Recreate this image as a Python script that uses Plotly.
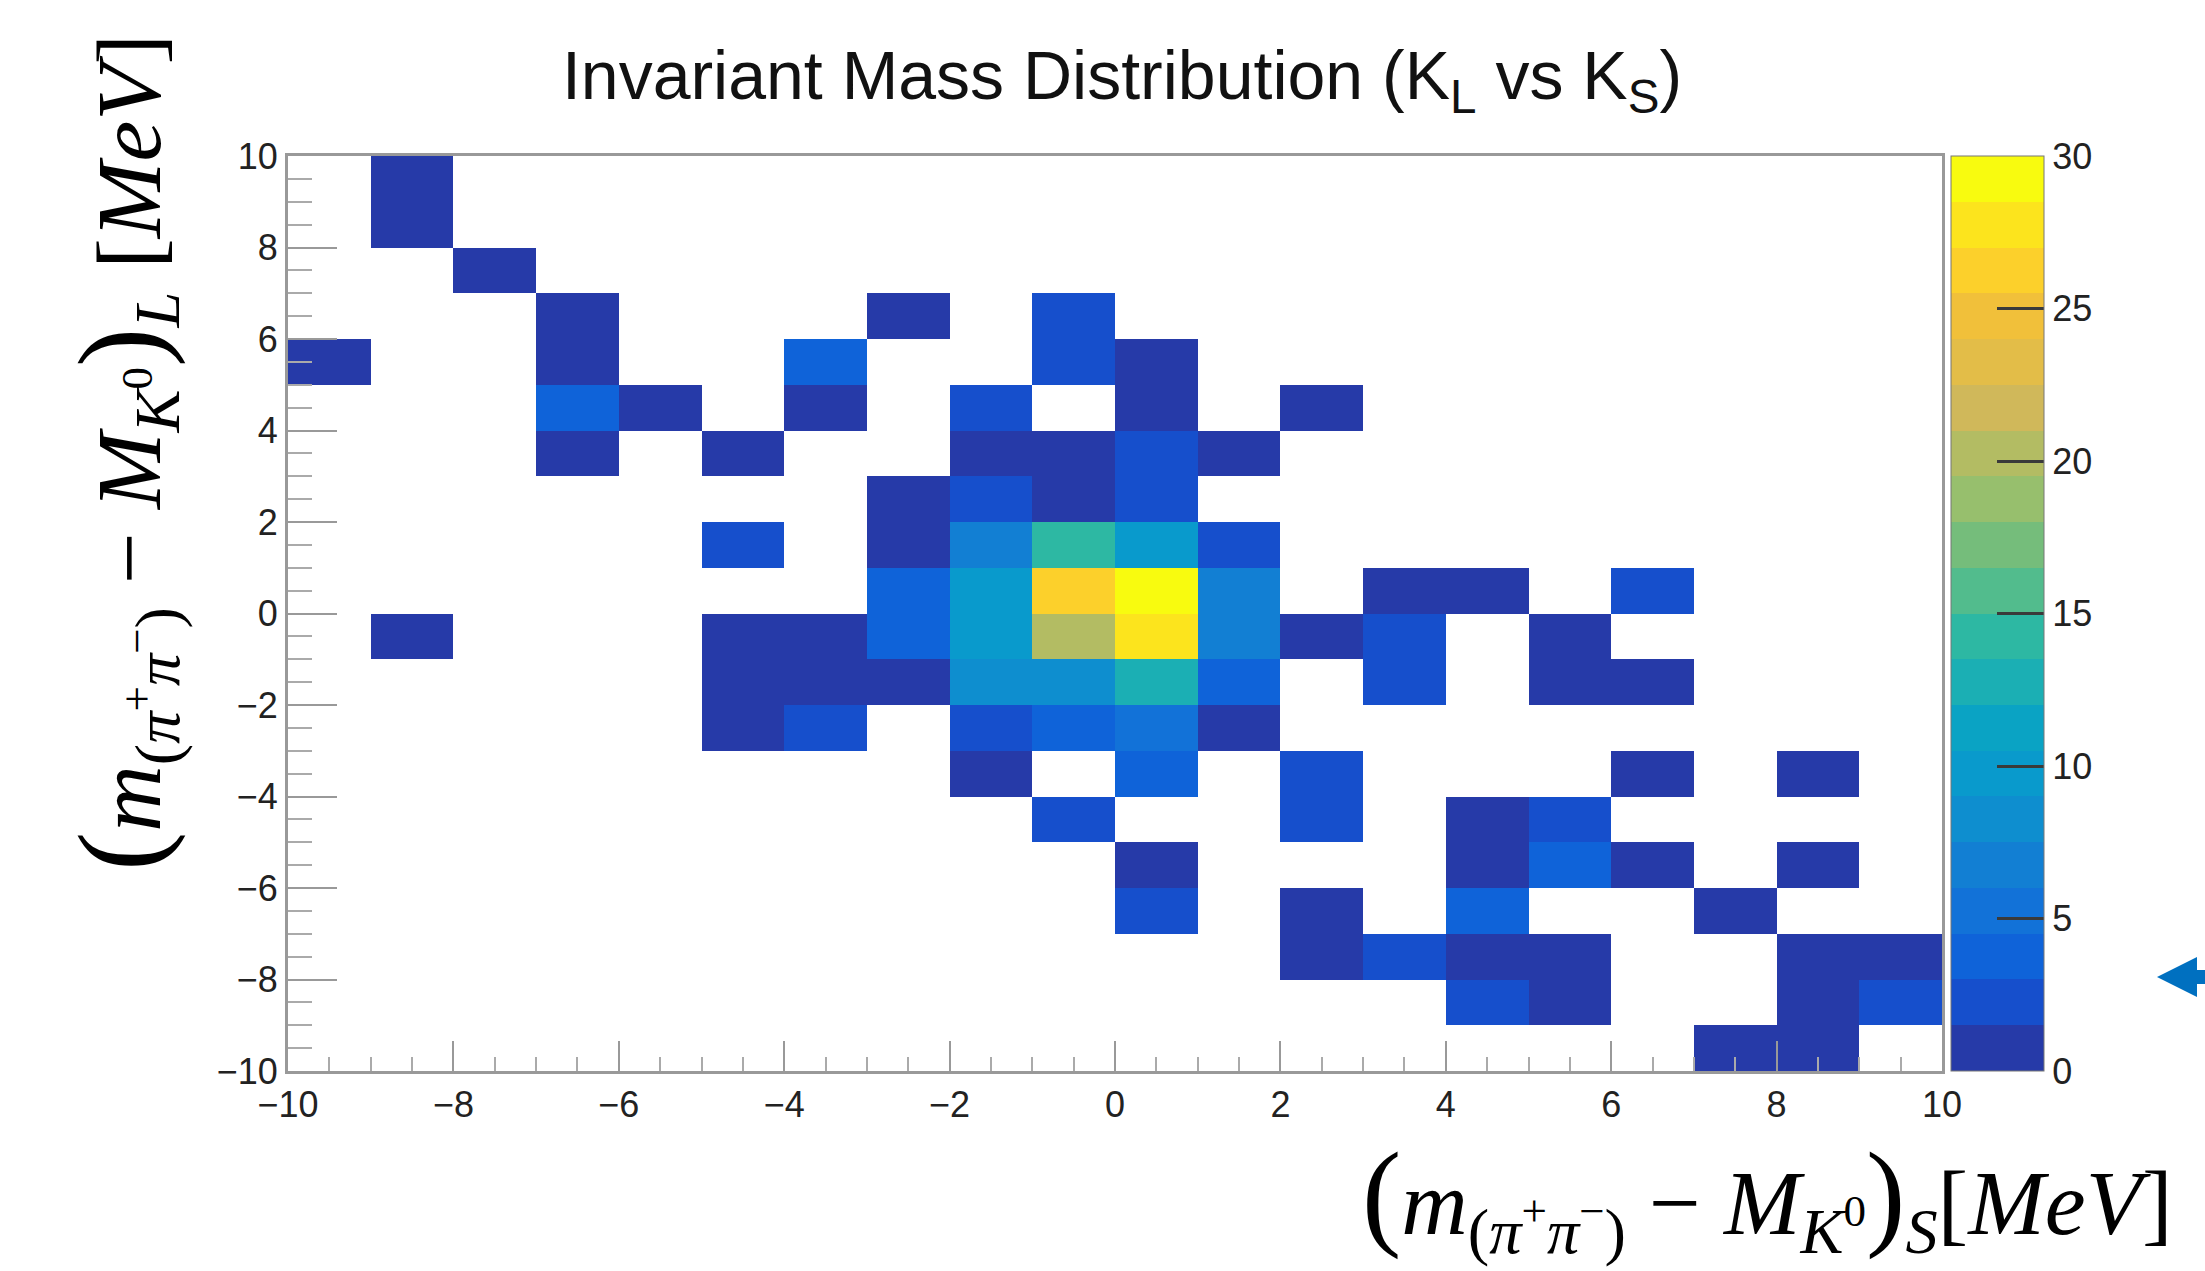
import plotly.graph_objects as go

# ---------------- data ----------------
x_centers = [-9.5 + i for i in range(20)]          # (m - M)_S bin centres [MeV]
y_centers = [-9.5 + j for j in range(20)]          # (m - M)_L bin centres [MeV]

# counts per bin, rows listed from top (y in [9,10]) to bottom (y in [-10,-9]),
# columns from x in [-10,-9] to x in [9,10]
counts_top_down = [
    [0, 1, 0, 0, 0, 0, 0, 0, 0, 0, 0, 0, 0, 0, 0, 0, 0, 0, 0, 0],   # y 9..10
    [0, 1, 0, 0, 0, 0, 0, 0, 0, 0, 0, 0, 0, 0, 0, 0, 0, 0, 0, 0],   # y 8..9
    [0, 0, 1, 0, 0, 0, 0, 0, 0, 0, 0, 0, 0, 0, 0, 0, 0, 0, 0, 0],   # y 7..8
    [0, 0, 0, 1, 0, 0, 0, 1, 0, 2, 0, 0, 0, 0, 0, 0, 0, 0, 0, 0],   # y 6..7
    [1, 0, 0, 1, 0, 0, 4, 0, 0, 2, 1, 0, 0, 0, 0, 0, 0, 0, 0, 0],   # y 5..6
    [0, 0, 0, 4, 1, 0, 1, 0, 2, 0, 1, 0, 1, 0, 0, 0, 0, 0, 0, 0],   # y 4..5
    [0, 0, 0, 1, 0, 1, 0, 0, 1, 1, 2, 1, 0, 0, 0, 0, 0, 0, 0, 0],   # y 3..4
    [0, 0, 0, 0, 0, 0, 0, 1, 2, 1, 2, 0, 0, 0, 0, 0, 0, 0, 0, 0],   # y 2..3
    [0, 0, 0, 0, 0, 2, 0, 1, 7, 14, 10, 2, 0, 0, 0, 0, 0, 0, 0, 0],  # y 1..2
    [0, 0, 0, 0, 0, 0, 0, 4, 10, 26, 30, 7, 0, 1, 1, 0, 2, 0, 0, 0],  # y 0..1
    [0, 1, 0, 0, 0, 1, 1, 4, 10, 20, 28, 7, 1, 2, 0, 1, 0, 0, 0, 0],  # y -1..0
    [0, 0, 0, 0, 0, 1, 1, 1, 8, 8, 13, 4, 0, 2, 0, 1, 1, 0, 0, 0],   # y -2..-1
    [0, 0, 0, 0, 0, 1, 2, 0, 2, 4, 5, 1, 0, 0, 0, 0, 0, 0, 0, 0],   # y -3..-2
    [0, 0, 0, 0, 0, 0, 0, 0, 1, 0, 4, 0, 2, 0, 0, 0, 1, 0, 1, 0],   # y -4..-3
    [0, 0, 0, 0, 0, 0, 0, 0, 0, 2, 0, 0, 2, 0, 1, 2, 0, 0, 0, 0],   # y -5..-4
    [0, 0, 0, 0, 0, 0, 0, 0, 0, 0, 1, 0, 0, 0, 1, 4, 1, 0, 1, 0],   # y -6..-5
    [0, 0, 0, 0, 0, 0, 0, 0, 0, 0, 2, 0, 1, 0, 4, 0, 0, 1, 0, 0],   # y -7..-6
    [0, 0, 0, 0, 0, 0, 0, 0, 0, 0, 0, 0, 1, 2, 1, 1, 0, 0, 1, 1],   # y -8..-7
    [0, 0, 0, 0, 0, 0, 0, 0, 0, 0, 0, 0, 0, 0, 2, 1, 0, 0, 1, 2],   # y -9..-8
    [0, 0, 0, 0, 0, 0, 0, 0, 0, 0, 0, 0, 0, 0, 0, 0, 0, 1, 1, 0],   # y -10..-9
]

colorbar_ticks = [0, 5, 10, 15, 20, 25, 30]

# 20 contour bands of the palette (0 -> 30)
band_colors = [
    "#263aa8", "#164fcc", "#0f63d9", "#1272d8", "#127fd3",
    "#0e8ecf", "#099acc", "#0aa3c4", "#1bafb4", "#2db8a3",
    "#52bc8d", "#75bd7b", "#97bf6d", "#b3bc63", "#d0b85a",
    "#e3bd48", "#f1c03a", "#fcd02b", "#fce41d", "#f8fb0f",
]

# ---------------- figure ----------------
W, H = 2205, 1271
z = [[(v if v > 0 else None) for v in row] for row in counts_top_down[::-1]]

n = len(band_colors)
colorscale = []
for i, c in enumerate(band_colors):
    colorscale.append([i / n, c])
    colorscale.append([(i + 1) / n, c])

px_left, px_right, px_top, px_bottom = 288, 1942, 156, 1071
sans = "Liberation Sans Narrow, Arial Narrow, Liberation Sans, Arial"

fig = go.Figure(go.Heatmap(
    x=x_centers, y=y_centers, z=z,
    zmin=0, zmax=30, colorscale=colorscale,
    hoverongaps=False,
    colorbar=dict(
        x=1951 / W, xanchor="left", xref="paper",
        y=(H - px_bottom) / H, yanchor="bottom", yref="paper",
        lenmode="pixels", len=px_bottom - px_top,
        thicknessmode="pixels", thickness=93,
        outlinewidth=1, outlinecolor="#777",
        tickvals=colorbar_ticks, ticks="inside", ticklen=47,
        tickcolor="#3a3a3a", tickwidth=3,
        tickfont=dict(family=sans, size=36, color="#222"),
        ypad=0, xpad=0,
    ),
))

tickfont = dict(family=sans, size=36, color="#222")

fig.update_layout(
    width=W, height=H,
    margin=dict(l=0, r=0, t=0, b=0, autoexpand=False),
    paper_bgcolor="white", plot_bgcolor="white",
    showlegend=False,
    title=dict(
        text="Invariant Mass Distribution (K<sub>L</sub> vs K<sub>S</sub>)",
        x=1122 / W, xanchor="center", xref="paper",
        y=1 - 75 / H, yanchor="middle", yref="container",
        font=dict(family=sans, size=68, color="#111"),
    ),
    xaxis=dict(
        domain=[px_left / W, px_right / W], range=[-10, 10],
        tickvals=list(range(-10, 11, 2)), ticks="inside", ticklen=30, tickwidth=2, tickcolor="#999",
        minor=dict(dtick=0.5, tick0=0, ticks="inside", ticklen=14, tickwidth=2, tickcolor="#aaa"),
        showgrid=False, zeroline=False,
        showline=True, linecolor="#999", linewidth=3, mirror=True,
        tickfont=tickfont,
    ),
    yaxis=dict(
        domain=[(H - px_bottom) / H, (H - px_top) / H], range=[-10, 10],
        tickvals=list(range(-10, 11, 2)), ticks="inside", ticklen=49, tickwidth=2, tickcolor="#999",
        minor=dict(dtick=0.5, tick0=0, ticks="inside", ticklen=24, tickwidth=2, tickcolor="#aaa"),
        showgrid=False, zeroline=False,
        showline=True, linecolor="#999", linewidth=3, mirror=True,
        tickfont=tickfont,
    ),
)

serif = "Liberation Serif, DejaVu Serif, serif"
big = '<span style="font-size:118px">'
lab_x = (big + "(</span><i>m</i><sub>(<i>π</i><sup>+</sup><i>π</i><sup>−</sup>)</sub>"
         " − <i>M</i><sub><i>K</i><sup>0</sup></sub>" + big + ")</span><sub><i>S</i></sub>[<i>MeV</i>]")
lab_y = (big + "(</span><i>m</i><sub>(<i>π</i><sup>+</sup><i>π</i><sup>−</sup>)</sub>"
         " − <i>M</i><sub><i>K</i><sup>0</sup></sub>" + big + ")</span><sub><i>L</i></sub> [<i>MeV</i>]")

fig.add_annotation(text=lab_x, xref="paper", yref="paper",
                   x=1767 / W, y=1 - 1198 / H, xanchor="center", yanchor="middle",
                   showarrow=False, font=dict(family=serif, size=92, color="black"))
fig.add_annotation(text=lab_y, xref="paper", yref="paper", textangle=-90,
                   x=124 / W, y=1 - 453 / H, xanchor="center", yanchor="middle",
                   showarrow=False, font=dict(family=serif, size=92, color="black"))

# blue arrow head at the right edge (slide decoration)
pts = [(2157, 977), (2197, 957), (2197, 970), (2205, 970), (2205, 984), (2197, 984), (2197, 997)]
path = "M " + " L ".join(f"{px / W:.5f},{1 - py / H:.5f}" for px, py in pts) + " Z"
fig.add_shape(type="path", path=path, xref="paper", yref="paper",
              fillcolor="#0070c0", line=dict(width=0))

fig.write_html("out.html")
